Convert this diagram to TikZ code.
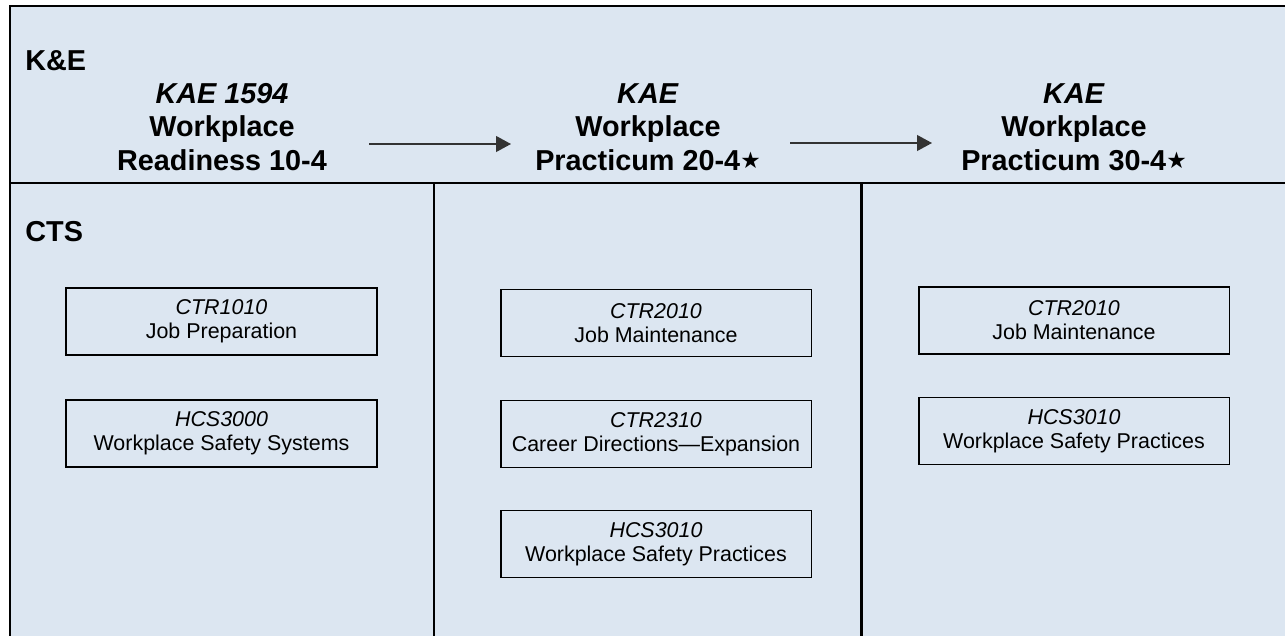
\documentclass[tikz,border=0pt]{standalone}
\usepackage{fontspec}
\setmainfont{Liberation Sans}
\newfontfamily\starfont{DejaVu Sans}
\usetikzlibrary{arrows.meta}
\definecolor{bgblue}{RGB}{220,230,241}
\newcommand\kaestar{\raisebox{1pt}{\fontsize{13}{13}\starfont ★}}
\tikzset{
	frame/.style={line width=1.7pt},
	course/.style={draw=black, line width=1.1pt, fill=bgblue, minimum width=6.22cm, minimum height=1.34cm, inner sep=0pt, align=center, font=\fontsize{12.2}{13.6}\selectfont},
	kae/.style={align=center, inner sep=0pt, font=\fontsize{16.4}{19}\selectfont\bfseries},
	band/.style={inner sep=0pt, anchor=base west, font=\fontsize{16.4}{19}\selectfont\bfseries},
	flow/.style={-{Triangle[length=8.5pt,width=9pt]}, line width=0.85pt, draw=black!80}
}

\begin{document}
\begin{tikzpicture}[x=0.02cm, y=-0.02cm]
		%%%%% START %%%%%
		\useasboundingbox (0, 0) rectangle (1285, 636);
		
		\fill[bgblue] (10, 6) rectangle (1285, 636);
		\draw[frame] (1285, 6) -- (10, 6) -- (10, 636);
		\draw[frame] (10, 183) -- (1285, 183);
		\draw[frame] (434, 183) -- (434, 636);
		\draw[frame] (861, 183) -- (861, 636);
		
		\node[band] (ke) at (25, 70) {K\&E};
		\node[band] (cts) at (25, 241) {CTS};
		
		\node[kae] (wr10) at (222, 127) {\textit{KAE 1594}\\Workplace\\Readiness 10-4};
		\node[kae] (wp20) at (648, 127) {\textit{KAE}\\Workplace\\Practicum 20-4\kaestar};
		\node[kae] (wp30) at (1074, 127) {\textit{KAE}\\Workplace\\Practicum 30-4\kaestar};
		
		\coordinate (go1) at (369, 144);
		\coordinate (to1) at (511, 144);
		\coordinate (go2) at (790, 143);
		\coordinate (to2) at (932, 143);
		\draw[flow] (go1) -- (to1);
		\draw[flow] (go2) -- (to2);
		
		\node[course] (ctr1010) at (221.5, 321.5) {\textit{CTR1010}\\Job Preparation};
		\node[course] (hcs3000) at (221.5, 433.5) {\textit{HCS3000}\\Workplace Safety Systems};
		
		\node[course] (ctr2010a) at (656, 323) {\textit{CTR2010}\\Job Maintenance};
		\node[course] (ctr2310) at (656, 434) {\textit{CTR2310}\\Career Directions—Expansion};
		\node[course] (hcs3010a) at (656, 544) {\textit{HCS3010}\\Workplace Safety Practices};
		
		\node[course] (ctr2010b) at (1074, 320.5) {\textit{CTR2010}\\Job Maintenance};
		\node[course] (hcs3010b) at (1074, 431) {\textit{HCS3010}\\Workplace Safety Practices};
		
		%%%%% END %%%%%
\end{tikzpicture}
\end{document}
